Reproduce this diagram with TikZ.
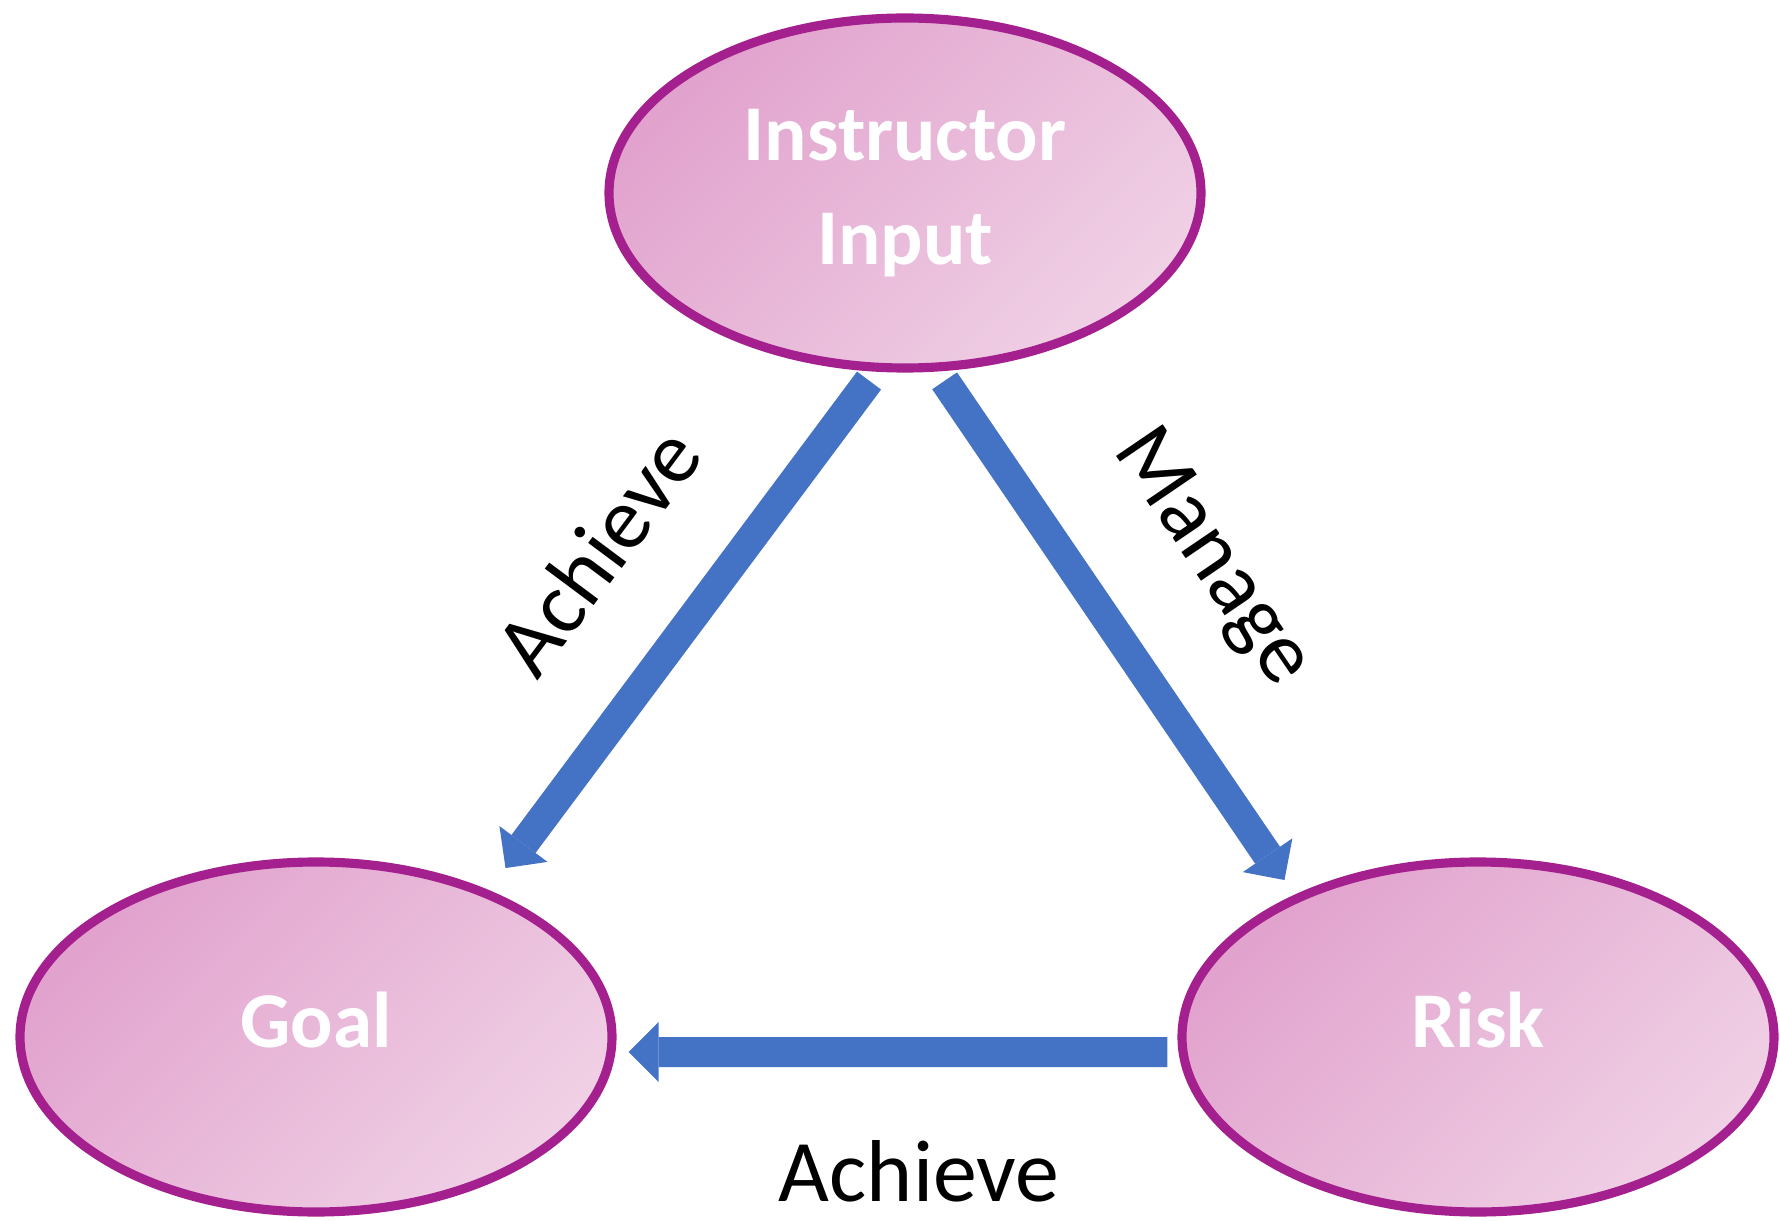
\documentclass[tikz,border=0pt]{standalone}
\usepackage{fontspec}
\setmainfont{Carlito}
\usepackage{xcolor}
\usepackage{tikz}
\usetikzlibrary{arrows.meta,shapes.geometric}

\definecolor{ringpurple}{RGB}{164,32,142}
\definecolor{pinkdark}{RGB}{225,162,205}
\definecolor{pinklight}{RGB}{240,208,229}
\definecolor{arrowblue}{RGB}{68,114,196}

\begin{document}
\begin{tikzpicture}[
  bubble/.style={ellipse,draw=ringpurple,line width=2.6pt,top color=pinkdark,bottom color=pinklight,shading angle=45,
    minimum width=5.92cm,minimum height=3.5cm,inner sep=0pt,align=center,text=white,font=\fontsize{22.5}{29.5}\selectfont\bfseries},
  flow/.style={draw=arrowblue,line width=3mm,shorten <=1mm,-{Triangle[width=6mm,length=3mm,line width=0pt]}},
  verb/.style={font=\fontsize{25}{30}\selectfont,inner sep=0pt}
]
% Page
\useasboundingbox (0,0) rectangle (17.8,12.2);
\fill[white] (0,0) rectangle (17.8,12.2);

% Ellipses
\node[bubble] (inst) at (9.05,10.27) {Instructor\\Input};
\node[bubble,text depth=3.4mm] (goal) at (3.16,1.83) {Goal};
\node[bubble,text depth=3.4mm] (risk) at (14.78,1.83) {Risk};

% Arrows with their verbs
\draw[flow] ([xshift=-3mm]inst.south) -- ([shift={(-0.23,0.42)}]goal.north east)
  node[verb,midway,sloped,above=7mm] {Achieve};
\draw[flow] ([xshift=3.4mm]inst.south) -- ([shift={(0.19,0.30)}]risk.north west)
  node[verb,midway,sloped,above=7mm] {Manage};
\draw[flow] ([yshift=-1.5mm]risk.west) -- ([shift={(0.12,-0.15)}]goal.east)
  node[verb,midway,below=7.3mm,xshift=1.6mm] {Achieve};
\end{tikzpicture}
\end{document}
